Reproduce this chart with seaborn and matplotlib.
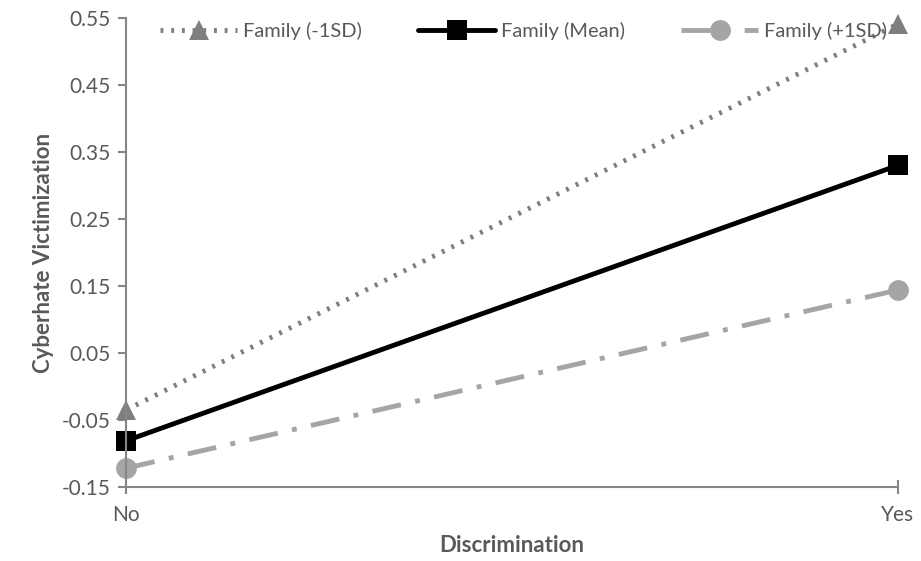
import pandas as pd
import matplotlib.pyplot as plt
import seaborn as sns

# values
discrimination = ["No", "Yes"]
family_low = [-0.035, 0.541]
family_mean = [-0.081, 0.330]
family_high = [-0.122, 0.144]
series_names = ["Family (-1SD)", "Family (Mean)", "Family (+1SD)"]

rows = []
for name, vals in zip(series_names, [family_low, family_mean, family_high]):
    for i, v in enumerate(vals):
        rows.append({"Discrimination": i, "Cyberhate Victimization": v, "Group": name})
df = pd.DataFrame(rows)

sns.set_theme(style="white")
plt.rcParams['font.family'] = ['Lato', 'DejaVu Sans']

fig = plt.figure(figsize=(9.21, 5.61), dpi=100)
ax = fig.add_axes([0.137, 0.132, 0.838, 0.836])

palette = {"Family (-1SD)": "#7f7f7f", "Family (Mean)": "#000000", "Family (+1SD)": "#a5a5a5"}
dashes = {"Family (-1SD)": (0.6, 1.6), "Family (Mean)": "", "Family (+1SD)": (6, 3, 1, 3)}
markers = {"Family (-1SD)": "^", "Family (Mean)": "s", "Family (+1SD)": "o"}

sns.lineplot(data=df, x="Discrimination", y="Cyberhate Victimization", hue="Group",
             style="Group", palette=palette, dashes=dashes, markers=markers,
             linewidth=3.5, markersize=15, markeredgewidth=0, ax=ax, clip_on=False)

ax.set_xlim(0, 1)
ax.set_ylim(-0.15, 0.55)
ax.set_yticks([-0.15, -0.05, 0.05, 0.15, 0.25, 0.35, 0.45, 0.55])
ax.set_yticklabels(["-0.15", "-0.05", "0.05", "0.15", "0.25", "0.35", "0.45", "0.55"])
ax.set_xticks([0, 1])
ax.set_xticklabels(discrimination)

for s in ["top", "right"]:
    ax.spines[s].set_visible(False)
for s in ["left", "bottom"]:
    ax.spines[s].set_color("#868686")
    ax.spines[s].set_linewidth(1.5)

ax.tick_params(axis="y", direction="out", length=6, width=1.5, color="#868686",
               labelsize=15, labelcolor="#595959", left=True, pad=5)
ax.tick_params(axis="x", direction="inout", length=10, width=1.5, color="#868686",
               labelsize=15, labelcolor="#595959", bottom=True, pad=8)

ax.set_xlabel("Discrimination", fontsize=16, fontweight="bold", color="#595959", labelpad=7)
ax.set_ylabel("Cyberhate Victimization", fontsize=16, fontweight="bold", color="#595959", labelpad=6)

ax.legend(loc="upper center", bbox_to_anchor=(0.515, 1.03), ncol=3, frameon=False,
          fontsize=14.5, handlelength=3.8, columnspacing=2.8, handletextpad=0.3,
          labelcolor="#595959")

plt.savefig("out.png", dpi=100)
